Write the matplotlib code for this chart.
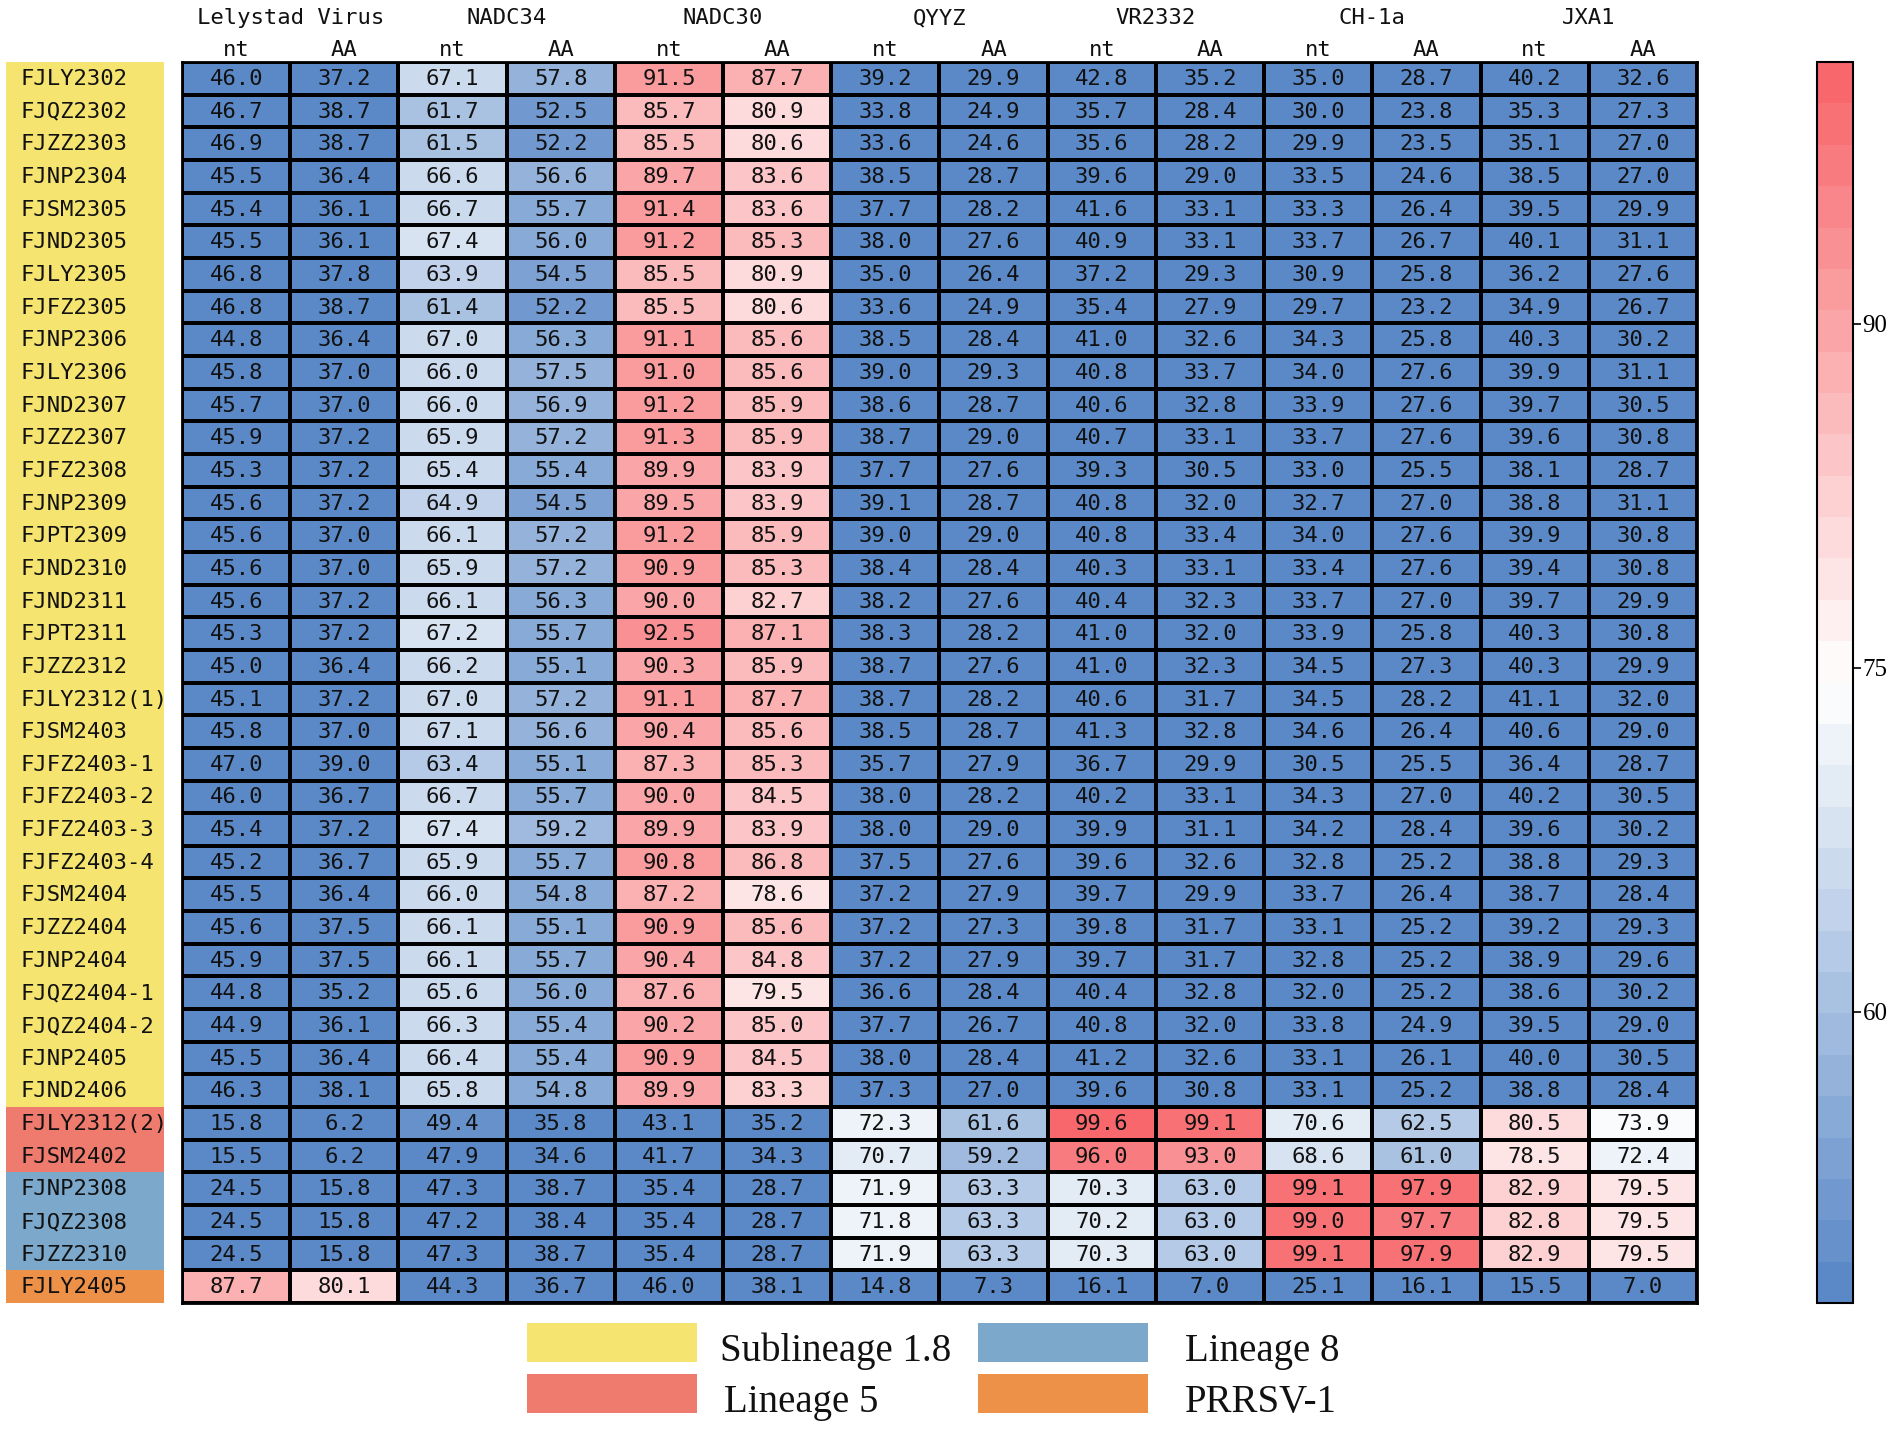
import matplotlib
matplotlib.use('Agg')
from matplotlib import pyplot as plt
from matplotlib.colors import LinearSegmentedColormap
from matplotlib.patches import Rectangle
import numpy as np

strains = ['FJLY2302', 'FJQZ2302', 'FJZZ2303', 'FJNP2304', 'FJSM2305', 'FJND2305',
           'FJLY2305', 'FJFZ2305', 'FJNP2306', 'FJLY2306', 'FJND2307', 'FJZZ2307',
           'FJFZ2308', 'FJNP2309', 'FJPT2309', 'FJND2310', 'FJND2311', 'FJPT2311',
           'FJZZ2312', 'FJLY2312(1)', 'FJSM2403', 'FJFZ2403-1', 'FJFZ2403-2',
           'FJFZ2403-3', 'FJFZ2403-4', 'FJSM2404', 'FJZZ2404', 'FJNP2404',
           'FJQZ2404-1', 'FJQZ2404-2', 'FJNP2405', 'FJND2406',
           'FJLY2312(2)', 'FJSM2402', 'FJNP2308', 'FJQZ2308', 'FJZZ2310', 'FJLY2405']

# lineage of each strain (index into groups below)
strain_group = [0] * 32 + [1, 1, 2, 2, 2, 3]

groups = ['Sublineage 1.8', 'Lineage 5', 'Lineage 8', 'PRRSV-1']
group_colors = ['#f5e46f', '#ee7b6d', '#7ba8cb', '#ee9148']

references = ['Lelystad Virus', 'NADC34', 'NADC30', 'QYYZ', 'VR2332', 'CH-1a', 'JXA1']
sub_cols = ['nt', 'AA']

# identity (%) rows: LV nt/AA, NADC34 nt/AA, NADC30 nt/AA, QYYZ nt/AA, VR2332 nt/AA, CH-1a nt/AA, JXA1 nt/AA
identity = [
    [46.0, 37.2, 67.1, 57.8, 91.5, 87.7, 39.2, 29.9, 42.8, 35.2, 35.0, 28.7, 40.2, 32.6],
    [46.7, 38.7, 61.7, 52.5, 85.7, 80.9, 33.8, 24.9, 35.7, 28.4, 30.0, 23.8, 35.3, 27.3],
    [46.9, 38.7, 61.5, 52.2, 85.5, 80.6, 33.6, 24.6, 35.6, 28.2, 29.9, 23.5, 35.1, 27.0],
    [45.5, 36.4, 66.6, 56.6, 89.7, 83.6, 38.5, 28.7, 39.6, 29.0, 33.5, 24.6, 38.5, 27.0],
    [45.4, 36.1, 66.7, 55.7, 91.4, 83.6, 37.7, 28.2, 41.6, 33.1, 33.3, 26.4, 39.5, 29.9],
    [45.5, 36.1, 67.4, 56.0, 91.2, 85.3, 38.0, 27.6, 40.9, 33.1, 33.7, 26.7, 40.1, 31.1],
    [46.8, 37.8, 63.9, 54.5, 85.5, 80.9, 35.0, 26.4, 37.2, 29.3, 30.9, 25.8, 36.2, 27.6],
    [46.8, 38.7, 61.4, 52.2, 85.5, 80.6, 33.6, 24.9, 35.4, 27.9, 29.7, 23.2, 34.9, 26.7],
    [44.8, 36.4, 67.0, 56.3, 91.1, 85.6, 38.5, 28.4, 41.0, 32.6, 34.3, 25.8, 40.3, 30.2],
    [45.8, 37.0, 66.0, 57.5, 91.0, 85.6, 39.0, 29.3, 40.8, 33.7, 34.0, 27.6, 39.9, 31.1],
    [45.7, 37.0, 66.0, 56.9, 91.2, 85.9, 38.6, 28.7, 40.6, 32.8, 33.9, 27.6, 39.7, 30.5],
    [45.9, 37.2, 65.9, 57.2, 91.3, 85.9, 38.7, 29.0, 40.7, 33.1, 33.7, 27.6, 39.6, 30.8],
    [45.3, 37.2, 65.4, 55.4, 89.9, 83.9, 37.7, 27.6, 39.3, 30.5, 33.0, 25.5, 38.1, 28.7],
    [45.6, 37.2, 64.9, 54.5, 89.5, 83.9, 39.1, 28.7, 40.8, 32.0, 32.7, 27.0, 38.8, 31.1],
    [45.6, 37.0, 66.1, 57.2, 91.2, 85.9, 39.0, 29.0, 40.8, 33.4, 34.0, 27.6, 39.9, 30.8],
    [45.6, 37.0, 65.9, 57.2, 90.9, 85.3, 38.4, 28.4, 40.3, 33.1, 33.4, 27.6, 39.4, 30.8],
    [45.6, 37.2, 66.1, 56.3, 90.0, 82.7, 38.2, 27.6, 40.4, 32.3, 33.7, 27.0, 39.7, 29.9],
    [45.3, 37.2, 67.2, 55.7, 92.5, 87.1, 38.3, 28.2, 41.0, 32.0, 33.9, 25.8, 40.3, 30.8],
    [45.0, 36.4, 66.2, 55.1, 90.3, 85.9, 38.7, 27.6, 41.0, 32.3, 34.5, 27.3, 40.3, 29.9],
    [45.1, 37.2, 67.0, 57.2, 91.1, 87.7, 38.7, 28.2, 40.6, 31.7, 34.5, 28.2, 41.1, 32.0],
    [45.8, 37.0, 67.1, 56.6, 90.4, 85.6, 38.5, 28.7, 41.3, 32.8, 34.6, 26.4, 40.6, 29.0],
    [47.0, 39.0, 63.4, 55.1, 87.3, 85.3, 35.7, 27.9, 36.7, 29.9, 30.5, 25.5, 36.4, 28.7],
    [46.0, 36.7, 66.7, 55.7, 90.0, 84.5, 38.0, 28.2, 40.2, 33.1, 34.3, 27.0, 40.2, 30.5],
    [45.4, 37.2, 67.4, 59.2, 89.9, 83.9, 38.0, 29.0, 39.9, 31.1, 34.2, 28.4, 39.6, 30.2],
    [45.2, 36.7, 65.9, 55.7, 90.8, 86.8, 37.5, 27.6, 39.6, 32.6, 32.8, 25.2, 38.8, 29.3],
    [45.5, 36.4, 66.0, 54.8, 87.2, 78.6, 37.2, 27.9, 39.7, 29.9, 33.7, 26.4, 38.7, 28.4],
    [45.6, 37.5, 66.1, 55.1, 90.9, 85.6, 37.2, 27.3, 39.8, 31.7, 33.1, 25.2, 39.2, 29.3],
    [45.9, 37.5, 66.1, 55.7, 90.4, 84.8, 37.2, 27.9, 39.7, 31.7, 32.8, 25.2, 38.9, 29.6],
    [44.8, 35.2, 65.6, 56.0, 87.6, 79.5, 36.6, 28.4, 40.4, 32.8, 32.0, 25.2, 38.6, 30.2],
    [44.9, 36.1, 66.3, 55.4, 90.2, 85.0, 37.7, 26.7, 40.8, 32.0, 33.8, 24.9, 39.5, 29.0],
    [45.5, 36.4, 66.4, 55.4, 90.9, 84.5, 38.0, 28.4, 41.2, 32.6, 33.1, 26.1, 40.0, 30.5],
    [46.3, 38.1, 65.8, 54.8, 89.9, 83.3, 37.3, 27.0, 39.6, 30.8, 33.1, 25.2, 38.8, 28.4],
    [15.8, 6.2, 49.4, 35.8, 43.1, 35.2, 72.3, 61.6, 99.6, 99.1, 70.6, 62.5, 80.5, 73.9],
    [15.5, 6.2, 47.9, 34.6, 41.7, 34.3, 70.7, 59.2, 96.0, 93.0, 68.6, 61.0, 78.5, 72.4],
    [24.5, 15.8, 47.3, 38.7, 35.4, 28.7, 71.9, 63.3, 70.3, 63.0, 99.1, 97.9, 82.9, 79.5],
    [24.5, 15.8, 47.2, 38.4, 35.4, 28.7, 71.8, 63.3, 70.2, 63.0, 99.0, 97.7, 82.8, 79.5],
    [24.5, 15.8, 47.3, 38.7, 35.4, 28.7, 71.9, 63.3, 70.3, 63.0, 99.1, 97.9, 82.9, 79.5],
    [87.7, 80.1, 44.3, 36.7, 46.0, 38.1, 14.8, 7.3, 16.1, 7.0, 25.1, 16.1, 15.5, 7.0],
]

data = np.array(identity)
n_rows, n_cols = data.shape

cell_font = 'DejaVu Sans Mono'
cmap = LinearSegmentedColormap.from_list('bwr_soft', ['#5b89c7', '#ffffff', '#f7676b'], N=30)

fig = plt.figure(figsize=(19.02, 14.30), dpi=100)
ax = fig.add_axes([0.0957, 0.0888, 0.7965, 0.8678])

mesh = ax.pcolormesh(data, cmap=cmap, vmin=47.3, vmax=101.4,
                     edgecolors='black', linewidth=1.6)
ax.set_xlim(0, n_cols)
ax.set_ylim(n_rows, 0)

for i in range(n_rows):
    for j in range(n_cols):
        ax.text(j + 0.5, i + 0.52, f'{data[i, j]:.1f}', ha='center', va='center',
                fontsize=16, family=cell_font, color='#111111')

# strain labels with lineage colour blocks
for i, name in enumerate(strains):
    ax.add_patch(Rectangle((-1.63, i), 1.465, 1, facecolor=group_colors[strain_group[i]],
                           edgecolor='none', clip_on=False))
    ax.text(-1.49, i + 0.52, name, ha='left', va='center', fontsize=16,
            family=cell_font, color='#111111', clip_on=False)

# column headers
ax.set_xticks([])
ax.set_yticks([])
for j in range(n_cols):
    ax.text(j + 0.5, -0.36, sub_cols[j % 2], ha='center', va='center',
            fontsize=16, family=cell_font, color='#111111')
for k, ref in enumerate(references):
    ax.text(2 * k + 1, -1.34, ref, ha='center', va='center',
            fontsize=16, family=cell_font, color='#111111')
for s in ax.spines.values():
    s.set_linewidth(2)

# colour bar
cax = fig.add_axes([0.9553, 0.0888, 0.0189, 0.8678])
cb = fig.colorbar(mesh, cax=cax, ticks=[60, 75, 90])
cb.outline.set_linewidth(1.5)
cb.ax.tick_params(length=6, width=1.2, pad=1, labelsize=18)
for t in cb.ax.get_yticklabels():
    t.set_family('Liberation Serif')

# lineage legend
legend_pos = [(0.2771, 0.0476), (0.2771, 0.0119), (0.5142, 0.0476), (0.5142, 0.0119)]
text_x = [0.3785, 0.3807, 0.623, 0.623]
for k, name in enumerate(groups):
    x0, y0 = legend_pos[k]
    fig.add_artist(Rectangle((x0, y0), 0.0894, 0.0275, facecolor=group_colors[k],
                             edgecolor='none', transform=fig.transFigure))
    fig.text(text_x[k], y0 + 0.0075, name, ha='left', va='center', fontsize=28,
             family='Liberation Serif', color='#111111')

plt.savefig('out.png', dpi=100)
